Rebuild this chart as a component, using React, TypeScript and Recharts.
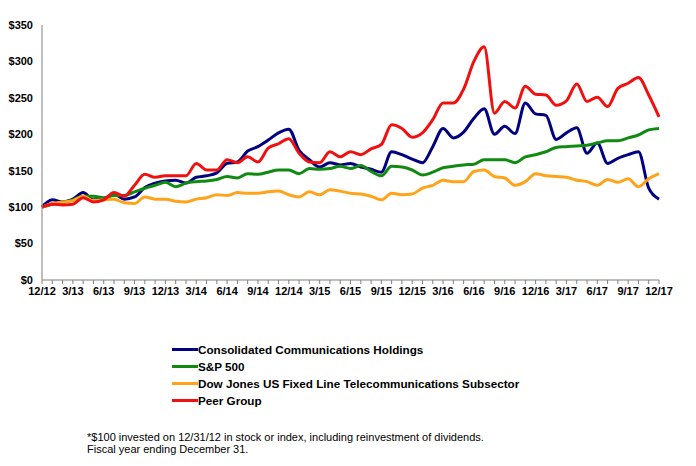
import { LineChart, Line, XAxis, YAxis } from 'recharts';

const MONTHS = [
  '12/12', '1/13', '2/13', '3/13', '4/13', '5/13', '6/13', '7/13', '8/13', '9/13', '10/13', '11/13',
  '12/13', '1/14', '2/14', '3/14', '4/14', '5/14', '6/14', '7/14', '8/14', '9/14', '10/14', '11/14',
  '12/14', '1/15', '2/15', '3/15', '4/15', '5/15', '6/15', '7/15', '8/15', '9/15', '10/15', '11/15',
  '12/15', '1/16', '2/16', '3/16', '4/16', '5/16', '6/16', '7/16', '8/16', '9/16', '10/16', '11/16',
  '12/16', '1/17', '2/17', '3/17', '4/17', '5/17', '6/17', '7/17', '8/17', '9/17', '10/17', '11/17',
  '12/17',
];

const CNSL = [
  100, 110, 107, 111, 120, 110, 111, 118, 111, 114, 127, 133,
  136, 137, 133, 141, 143, 147, 160, 162, 177, 183, 192, 202,
  207, 178, 165, 155, 161, 158, 160, 155, 152, 148, 176, 172,
  166, 161, 183, 208, 195, 203, 222, 235, 200, 211, 201, 243,
  228, 226, 193, 202, 209, 174, 188, 160, 167, 172, 176, 126,
  111,
];

const SP500 = [
  100, 104, 107, 110, 115, 115, 113, 116, 116, 121, 126, 130,
  134, 128, 133, 135, 136, 138, 142, 140, 146, 145, 148, 151,
  151, 146, 153, 152, 153, 156, 153, 157, 149, 143, 156, 155,
  151, 144, 148, 154, 156, 158, 159, 165, 165, 165, 161, 169,
  172, 176, 182, 183, 184, 185, 188, 191, 191, 195, 199, 206,
  208,
];

const DJ_FIXED_LINE = [
  100, 105, 107, 109, 115, 109, 110, 111, 106, 105, 114, 111,
  111, 108, 107, 111, 113, 117, 116, 120, 119, 119, 121, 122,
  117, 114, 121, 117, 124, 122, 119, 118, 115, 110, 119, 117,
  118, 126, 130, 137, 135, 135, 149, 151, 142, 140, 130, 135,
  146, 143, 142, 141, 137, 135, 130, 138, 134, 139, 128, 139,
  146,
];

const PEER_GROUP = [
  100, 104, 103, 104, 113, 107, 110, 120, 115, 130, 145, 141,
  143, 143, 143, 160, 151, 151, 165, 161, 169, 162, 181, 187,
  194, 174, 162, 161, 176, 169, 176, 172, 180, 186, 213, 208,
  196, 202, 220, 243, 243, 262, 300, 320, 229, 245, 236, 266,
  255, 254, 240, 246, 269, 245, 251, 238, 263, 270, 278, 254,
  224,
];

const Y_TICKS = [0, 50, 100, 150, 200, 250, 300, 350];

const SERIES = [
  { key: 'cnsl', name: 'Consolidated Communications Holdings', color: '#000080' },
  { key: 'sp', name: 'S&P 500', color: '#118A11' },
  { key: 'dj', name: 'Dow Jones US Fixed Line Telecommunications Subsector', color: '#FFA31A' },
  { key: 'peer', name: 'Peer Group', color: '#F01010' },
];

const data = MONTHS.map((m, i) => ({
  month: m,
  cnsl: CNSL[i],
  sp: SP500[i],
  dj: DJ_FIXED_LINE[i],
  peer: PEER_GROUP[i],
}));

const FONT = 'Arial, "Liberation Sans", Helvetica, sans-serif';

// only every third month gets a label, every month gets a tick mark
const MonthTick = (props: any) => {
  const { x, y, index, payload } = props;
  if (index % 3 !== 0) return <g />;
  return (
    <text x={x} y={y} dy={9} textAnchor="middle" fontSize={11} fontWeight="bold" fill="#000" fontFamily={FONT}>
      {payload.value}
    </text>
  );
};

export default function App() {
  return (
    <div style={{ position: 'relative', width: 680, height: 450, fontFamily: FONT }}>
      <LineChart
        width={680}
        height={292}
        data={data}
        margin={{ top: 17, right: 29, left: 0, bottom: 0 }}
      >
        <XAxis
          dataKey="month"
          interval={0}
          tick={<MonthTick />}
          tickSize={4}
          axisLine={{ stroke: '#808080' }}
          tickLine={{ stroke: '#808080' }}
          height={20}
        />
        <YAxis
          domain={[0, 350]}
          ticks={Y_TICKS}
          width={34}
          tickLine={false}
          tickMargin={3}
          axisLine={{ stroke: '#808080' }}
          tickFormatter={(v) => `$${v}`}
          tick={{ fontSize: 11, fontWeight: 'bold', fill: '#000', fontFamily: FONT }}
        />
        {SERIES.map((s) => (
          <Line
            key={s.key}
            type="monotone"
            dataKey={s.key}
            stroke={s.color}
            strokeWidth={3}
            dot={false}
            isAnimationActive={false}
          />
        ))}
      </LineChart>
      <div style={{ position: 'absolute', left: 164, top: 333 }}>
        {SERIES.map((s) => (
          <div key={s.key} style={{ display: 'flex', alignItems: 'center', height: 17 }}>
            <div style={{ width: 26, height: 3, background: s.color }} />
            <span style={{ fontSize: 11.7, fontWeight: 'bold', color: '#000' }}>{s.name}</span>
          </div>
        ))}
      </div>
      <div style={{ position: 'absolute', left: 79, top: 423, fontSize: 11, lineHeight: '12px', color: '#000' }}>
        <div>*$100 invested on 12/31/12 in stock or index, including reinvestment of dividends.</div>
        <div>Fiscal year ending December 31.</div>
      </div>
    </div>
  );
}
